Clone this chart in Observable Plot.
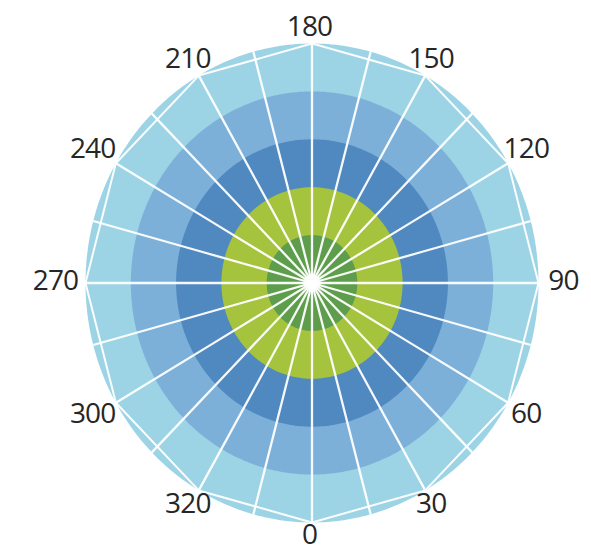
<!DOCTYPE html>
<html>
<head>
<meta charset="utf-8">
<script src="https://cdn.jsdelivr.net/npm/d3@7"></script>
<script src="https://cdn.jsdelivr.net/npm/@observablehq/plot@0.6"></script>
<style>
  html, body { margin: 0; padding: 0; background: #ffffff; }
</style>
</head>
<body>
<div id="chart"></div>
<script>
// ---- data ----
const ringRadii = [5, 4, 3, 2, 1];
const ringColors = ["#9dd4e5", "#7db0d9", "#5088c0", "#a5c33d", "#5e9d4c"];
const spokeAngles = [0, 15, 30, 45, 60, 75, 90, 105, 120, 135, 150, 165,
                     180, 195, 210, 225, 240, 255, 270, 285, 300, 315, 330, 345];
const tickAngles = [0, 30, 60, 90, 120, 150, 180, 210, 240, 270, 300, 330];
const tickLabels = ["0", "30", "60", "90", "120", "150", "180", "210", "240", "270", "300", "320"];
const outerRadius = 5;

// ---- layout ----
const W = 591, H = 555;
const cx = 311.5, cy = 282.5, rx = 226.5, ry = 239.5;
const labelPx = 254; // label distance from centre, in pixels
const unitDeg = 10;  // one radial unit = 10 degrees of arc in the azimuthal projection
const lat = r => 90 - r * unitDeg;
const sxUnit = rx / outerRadius, syUnit = ry / outerRadius;
const labelRadius = a => {
  const t = a * Math.PI / 180;
  return labelPx / Math.hypot(sxUnit * Math.sin(t), syUnit * Math.cos(t));
};

const base = d3.geoAzimuthalEquidistant()
  .rotate([0, -90])
  .scale(sxUnit * 180 / Math.PI / unitDeg)
  .translate([cx, cy])
  .precision(0.1);
const k = ry / rx;
const stretch = d3.geoTransform({
  point(x, y) { this.stream.point(x, cy + (y - cy) * k); }
});
const projection = { stream: s => base.stream(stretch.stream(s)) };

const rings = ringRadii.map((r, i) => ({ r, color: ringColors[i] }));
const circle = r => d3.geoCircle().center([0, 90]).radius(r * unitDeg).precision(1)();

const chart = Plot.plot({
  width: W,
  height: H,
  margin: 0,
  projection,
  color: { type: "identity" },
  style: { letterSpacing: "-0.8px" },
  marks: [
    Plot.geo(rings, { geometry: d => circle(d.r), fill: d => d.color }),
    Plot.link(spokeAngles, {
      x1: d => d, y1: 90, x2: d => d, y2: lat(outerRadius),
      stroke: "#ffffff", strokeWidth: 2.3, strokeOpacity: 0.95
    }),
    Plot.line(tickAngles, {
      x: d => d, y: lat(outerRadius), curve: "linear-closed",
      stroke: "#ffffff", strokeWidth: 2, strokeOpacity: 0.95
    }),
    Plot.dot([0], { x: 0, y: 90, r: 9, fill: "#ffffff", fillOpacity: 0.5 }),
    Plot.dot([0], { x: 0, y: 90, r: 5.5, fill: "#ffffff" }),
    Plot.text(tickAngles, {
      x: d => d, y: d => lat(labelRadius(d)),
      text: (d, i) => tickLabels[i],
      dx: -2.5, dy: -1.5,
      fontSize: 28,
      fontFamily: "'Open Sans', 'DejaVu Sans Condensed', sans-serif",
      fill: "#262626",
      textAnchor: "middle",
      lineAnchor: "middle"
    })
  ]
});
document.getElementById("chart").appendChild(chart);
</script>
</body>
</html>
